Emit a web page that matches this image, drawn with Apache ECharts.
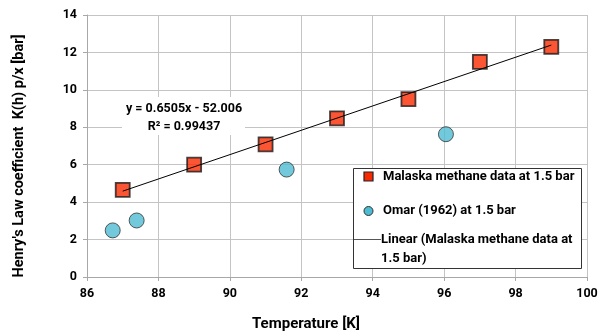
<!DOCTYPE html>
<html>
<head>
<meta charset="utf-8">
<script src="https://cdn.jsdelivr.net/npm/echarts@6/dist/echarts.min.js"></script>
<style>
  html, body { margin: 0; padding: 0; background: #fff; }
  #chart { width: 598px; height: 332px; }
</style>
</head>
<body>
<div id="chart"></div>
<script>
  // data
  const malaskaT = [87, 89, 91, 93, 95, 97, 99];
  const malaskaK = [4.66, 6.0, 7.09, 8.48, 9.51, 11.5, 12.3];
  const omarT = [86.72, 87.39, 91.59, 96.05];
  const omarK = [2.49, 3.02, 5.74, 7.63];
  // trend line as printed on the chart
  const slope = 0.6505;
  const intercept = -52.006;
  const fitRange = [87, 99];
  const legendNames = ['Malaska methane data at 1.5 bar', 'Omar (1962) at 1.5 bar', 'Linear (Malaska methane data at', '1.5 bar)'];

  const font = 'Roboto, sans-serif';
  const red = '#fa2a00';
  const cyan = '#4dbcd2';
  const chart = echarts.init(document.getElementById('chart'));

  const legendText = (x, y, s) => ({
    type: 'text', x: x, y: y, z: 60,
    style: { text: s, fontSize: 13, fontWeight: 'bold', fontFamily: font, fill: '#000', verticalAlign: 'middle' }
  });

  const option = {
    backgroundColor: '#fff',
    animation: false,
    textStyle: { fontFamily: font },
    grid: { left: 87, right: 11, top: 15, bottom: 55, outerBoundsMode: 'none' },
    xAxis: {
      type: 'value',
      min: 86, max: 100, interval: 2,
      name: 'Temperature [K]',
      nameLocation: 'middle',
      nameGap: 40,
      nameTextStyle: { fontSize: 15, fontWeight: 'bold', color: '#000', fontFamily: font, padding: [0, 62, 0, 0] },
      axisLine: { show: true, lineStyle: { color: '#a8a8a8' } },
      axisTick: { show: true, length: 4, lineStyle: { color: '#a8a8a8' } },
      axisLabel: { fontSize: 12.5, fontWeight: 'bold', color: '#000', margin: 10 },
      splitLine: { show: true, lineStyle: { color: '#c4c4c4' } }
    },
    yAxis: {
      type: 'value',
      min: 0, max: 14, interval: 2,
      name: "Henry's Law coefficient  K(h) p/x [bar]",
      nameLocation: 'middle',
      nameGap: 60,
      nameTextStyle: { fontSize: 14.5, fontWeight: 'bold', color: '#000', fontFamily: font, padding: [0, 20, 0, 0] },
      axisLine: { show: true, lineStyle: { color: '#a8a8a8' } },
      axisTick: { show: true, length: 4, lineStyle: { color: '#a8a8a8' } },
      axisLabel: { fontSize: 12.5, fontWeight: 'bold', color: '#000', margin: 10 },
      splitLine: { show: true, lineStyle: { color: '#c4c4c4' } }
    },
    graphic: [
      // white patch behind the trend line equation
      { type: 'rect', z: 49, shape: { x: 122, y: 97, width: 123, height: 38 }, style: { fill: '#fff' } },
      {
        type: 'text', x: 184, y: 118, z: 50,
        style: {
          text: 'y = 0.6505x - 52.006\nR\u00b2 = 0.99437',
          align: 'center', verticalAlign: 'middle',
          fontSize: 12.5, fontWeight: 'bold', fontFamily: font,
          fill: '#000', lineHeight: 18
        }
      },
      // legend box
      { type: 'rect', z: 55, shape: { x: 353.5, y: 168.5, width: 228, height: 100 }, style: { fill: '#fff', stroke: '#333', lineWidth: 1 } },
      { type: 'rect', z: 60, shape: { x: 364, y: 172, width: 9, height: 9 }, style: { fill: red, stroke: '#222', lineWidth: 1.2 } },
      legendText(383, 177, legendNames[0]),
      { type: 'circle', z: 60, shape: { cx: 368.5, cy: 211, r: 4.5 }, style: { fill: cyan, stroke: '#333', lineWidth: 1 } },
      legendText(383, 211, legendNames[1]),
      { type: 'line', z: 60, shape: { x1: 354, y1: 239.5, x2: 381, y2: 239.5 }, style: { stroke: '#555', lineWidth: 1 } },
      legendText(381, 240, legendNames[2]),
      legendText(381, 259, legendNames[3])
    ],
    series: [
      {
        name: legendNames[0],
        type: 'scatter',
        symbol: 'rect',
        symbolSize: 14,
        z: 3,
        itemStyle: { color: red, borderColor: '#1a1a1a', borderWidth: 1.8 },
        data: malaskaT.map((t, i) => [t, malaskaK[i]])
      },
      {
        name: legendNames[1],
        type: 'scatter',
        symbol: 'circle',
        symbolSize: 15,
        z: 3,
        itemStyle: { color: cyan, borderColor: '#333', borderWidth: 1 },
        data: omarT.map((t, i) => [t, omarK[i]])
      },
      {
        // the trend line is drawn over the markers, as in the original
        name: 'Linear (Malaska methane data at 1.5 bar)',
        type: 'line',
        symbol: 'none',
        z: 4,
        lineStyle: { color: '#000', width: 1 },
        data: fitRange.map(t => [t, slope * t + intercept])
      }
    ]
  };

  chart.setOption(option);
</script>
</body>
</html>
